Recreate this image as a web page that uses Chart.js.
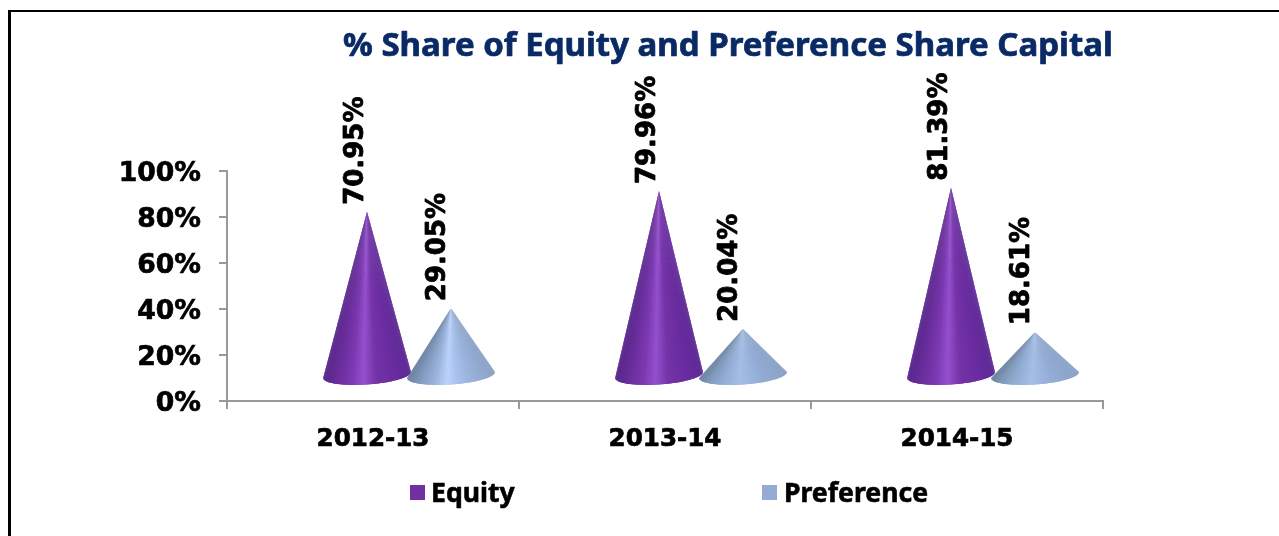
<!DOCTYPE html>
<html><head><meta charset="utf-8">
<script src="https://cdn.jsdelivr.net/npm/chart.js@4"></script>
<style>
html,body{margin:0;padding:0;background:#fff;width:1279px;height:536px;overflow:hidden}
#wrap{position:absolute;left:0;top:0;width:1279px;height:536px}
#frame{position:absolute;left:8px;top:10px;width:1271px;height:526px;border-left:3px solid #000;border-top:2px solid #000;box-sizing:border-box}
</style></head><body>
<div id="wrap"><canvas id="c" width="1279" height="536"></canvas></div>
<div id="frame"></div>
<script>
const categories = ['2012-13','2013-14','2014-15'];
const equity = [70.95,79.96,81.39];
const preference = [29.05,20.04,18.61];
const titleText = '% Share of Equity and Preference Share Capital';
const NUM = '"DejaVu Sans", sans-serif';
const TXT = '"Noto Sans", "DejaVu Sans", sans-serif';

const purpleStops=[[0,'#5d2a95'],[0.2,'#6a2ca0'],[0.4,'#7434a8'],[0.55,'#9550ce'],[0.68,'#7c3ab2'],[0.85,'#6a2d9c'],[1,'#57268a']];
const blueBright=[[0,'#8ba2c4'],[0.25,'#98b1da'],[0.45,'#a9c3ee'],[0.55,'#bcd3f8'],[0.7,'#9ab4de'],[0.88,'#8099bd'],[1,'#6a809f']];
const blueMuted=[[0,'#8ba2c6'],[0.3,'#94add6'],[0.55,'#a5bee6'],[0.75,'#93acd3'],[0.9,'#809abb'],[1,'#6b819f']];

function hex(c){return [1,3,5].map(i=>parseInt(c.substr(i,2),16));}
function shade(stops,t){
  for(let i=1;i<stops.length;i++){
    if(t<=stops[i][0]){
      const a=stops[i-1],b=stops[i],f=(t-a[0])/(b[0]-a[0]);
      const A=hex(a[1]),B=hex(b[1]);
      return 'rgb('+A.map((v,k)=>Math.round(v+(B[k]-v)*f)).join(',')+')';
    }
  }
  return stops[stops.length-1][1];
}
function heavyText(ctx,txt,x,y,w){
  ctx.lineWidth=w;ctx.strokeStyle=ctx.fillStyle;ctx.lineJoin='round';
  ctx.strokeText(txt,x,y);ctx.fillText(txt,x,y);
}
const conePlugin={id:'cones',afterDatasetsDraw(chart){
  const ctx=chart.ctx, y0=chart.scales.y.getPixelForValue(0);
  const shiftX=36, shiftY=26, halfW=44, ry=9.5, tilt=-0.07, N=90;
  chart.data.datasets.forEach((ds,di)=>{
    chart.getDatasetMeta(di).data.forEach((el,i)=>{
      const cx=el.x+shiftX, tip=el.y-shiftY, base=y0-shiftY;
      const stops=ds.coneStops[i];
      const pt=th=>{
        const x=halfW*Math.cos(th), y=ry*Math.sin(th);
        return [cx+x*Math.cos(tilt)-y*Math.sin(tilt), base+x*Math.sin(tilt)+y*Math.cos(tilt)];
      };
      ctx.save();
      for(let k=0;k<N;k++){
        const a=Math.PI*(1-k/N), b=Math.PI*(1-Math.min(k+2,N)/N);
        const t=(1-Math.cos(Math.PI*(1-(k+0.5)/N)))/2;
        const p=pt(a),q=pt(b);
        ctx.beginPath();ctx.moveTo(cx,tip);ctx.lineTo(p[0],p[1]);ctx.lineTo(q[0],q[1]);ctx.closePath();
        ctx.fillStyle=shade(stops,t);ctx.fill();
      }
      ctx.restore();
      ctx.save();
      ctx.translate(cx-(di===0?11:12.5),tip-7);
      ctx.rotate(-Math.PI/2);
      ctx.font='bold 26px '+NUM;
      ctx.fillStyle='#000';ctx.textAlign='left';ctx.textBaseline='middle';
      heavyText(ctx,ds.labelsText[i],0,0,0.8);
      ctx.restore();
    });
  });
}};

new Chart(document.getElementById('c'),{
  type:'bar',
  data:{labels:categories,datasets:[
    {label:'Equity',data:equity,backgroundColor:'rgba(0,0,0,0)',
     labelsText:equity.map(v=>v.toFixed(2)+'%'),
     coneStops:[purpleStops,purpleStops,purpleStops]},
    {label:'Preference',data:preference,backgroundColor:'rgba(0,0,0,0)',
     labelsText:preference.map(v=>v.toFixed(2)+'%'),
     coneStops:[blueBright,blueMuted,blueMuted]}
  ]},
  options:{
    responsive:false,animation:false,
    layout:{padding:{top:171,right:176,left:0,bottom:0}},
    datasets:{bar:{barPercentage:1,categoryPercentage:0.575}},
    scales:{
      x:{position:'bottom',
        afterFit(s){s.height=135;},
        grid:{display:true,drawOnChartArea:false,drawTicks:true,tickLength:8,offset:true,color:'#999',lineWidth:2},
        border:{color:'#999',width:2},
        ticks:{color:'#000',font:{family:NUM,size:24.6,weight:'bold'},padding:16,maxRotation:0,textStrokeWidth:0.7,textStrokeColor:'#000'}},
      y:{min:0,max:100,
        afterFit(s){s.width=227;},
        grid:{display:true,drawOnChartArea:false,tickLength:8,color:'#999',lineWidth:2},
        border:{color:'#999',width:2},
        ticks:{stepSize:20,color:'#000',padding:18,labelOffset:3,font:{family:NUM,size:26.6,weight:'bold'},callback:v=>v+'%',textStrokeWidth:0.7,textStrokeColor:'#000'}}
    },
    plugins:{legend:{display:false},title:{display:false},tooltip:{enabled:false}}
  },
  plugins:[conePlugin,{
    id:'texts',
    afterDraw(chart){
      const ctx=chart.ctx;
      ctx.save();
      ctx.font='bold 33px '+TXT;ctx.fillStyle='#0a2a66';ctx.textBaseline='middle';ctx.textAlign='center';
      heavyText(ctx,titleText,728,47,0.7);
      ctx.font='bold 26.6px '+TXT;ctx.fillStyle='#000';ctx.textAlign='left';
      heavyText(ctx,chart.data.datasets[0].label,431,494.5,0.6);
      heavyText(ctx,chart.data.datasets[1].label,784,494.5,0.6);
      ctx.fillStyle='#7030a0';ctx.fillRect(410,485,15,15);
      ctx.fillStyle='#95abd5';ctx.fillRect(762,485,15,15);
      ctx.restore();
    }
  }]
});
</script>
</body></html>
